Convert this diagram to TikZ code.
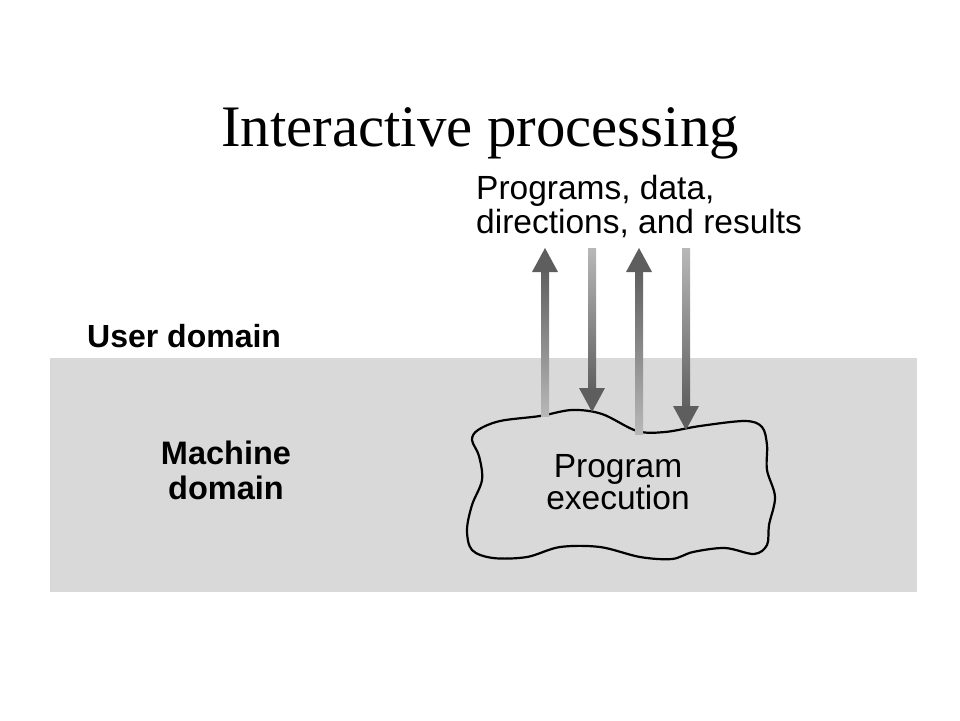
\documentclass[tikz,border=0pt]{standalone}
\usepackage{fontspec}
\setmainfont{Liberation Serif}
\setsansfont{Liberation Sans}
\usetikzlibrary{calc}
\definecolor{domaingray}{HTML}{D9D9D9}
\definecolor{arrowdark}{HTML}{5E5E5E}
\definecolor{arrowlight}{HTML}{B8B8B8}
\tikzset{
  lbl/.style={font=\sffamily\fontsize{33.5}{34}\selectfont, align=left, inner sep=0pt},
  boldlbl/.style={font=\sffamily\bfseries\fontsize{32.5}{35}\selectfont, align=center, inner sep=0pt},
}
\newcommand{\upflow}[2]{% from #1 (tail, bottom) to #2 (tip, top)
  \shade[top color=arrowdark, bottom color=arrowlight] ($(#2)+(-4,20)$) rectangle ($(#1)+(4,0)$);
  \fill[arrowdark] (#2) -- ($(#2)+(-13,24)$) -- ($(#2)+(13,24)$) -- cycle;
}
\newcommand{\downflow}[2]{% from #1 (tail, top) to #2 (tip, bottom)
  \shade[top color=arrowlight, bottom color=arrowdark] ($(#1)+(-4,0)$) rectangle ($(#2)+(4,-20)$);
  \fill[arrowdark] (#2) -- ($(#2)+(-13,-24)$) -- ($(#2)+(13,-24)$) -- cycle;
}
\begin{document}
\begin{tikzpicture}[x=1pt,y=-1pt]
\useasboundingbox (0,0) rectangle (960,720);
\fill[white] (0,0) rectangle (960,720);
\fill[domaingray] (50,358) rectangle (917,592);

\node[font=\fontsize{58.8}{60}\selectfont, anchor=base, inner sep=0pt] (title) at (480,146) {Interactive processing};

\node[lbl, anchor=north west] (data) at (476,175) {Programs, data,\\directions, and results};
\node[font=\sffamily\bfseries\fontsize{32}{34}\selectfont, anchor=base west, inner sep=0pt] (user) at (87,347) {User domain};
\node[boldlbl] (machine) at (226,470) {Machine\\domain};

% cloud
\draw[line width=2.2pt, fill=domaingray] plot[smooth cycle, tension=0.55] coordinates {
 (478,430) (500,421) (540,416) (572,410) (602,414) (637,431) (665,432) (700,426)
 (745,421) (762,427) (767,445) (767,470) (775,497) (769,525) (767,545)
 (754,554) (725,548) (693,552) (672,559) (640,557) (600,547) (560,547)
 (527,557) (493,558) (472,550) (467,530) (472,505) (482,480) (479,456) (472,440)};
\node[font=\sffamily\fontsize{33.5}{32}\selectfont, align=center, inner sep=0pt] (exec) at (618,482) {Program\\execution};

\coordinate (u1a) at (545,416);
\coordinate (u1b) at (545,248);
\coordinate (d1a) at (592,248);
\coordinate (d1b) at (592,412);
\coordinate (u2a) at (639,434);
\coordinate (u2b) at (639,248);
\coordinate (d2a) at (686,248);
\coordinate (d2b) at (686,430);
\upflow{u1a}{u1b}
\downflow{d1a}{d1b}
\upflow{u2a}{u2b}
\downflow{d2a}{d2b}
\end{tikzpicture}
\end{document}
